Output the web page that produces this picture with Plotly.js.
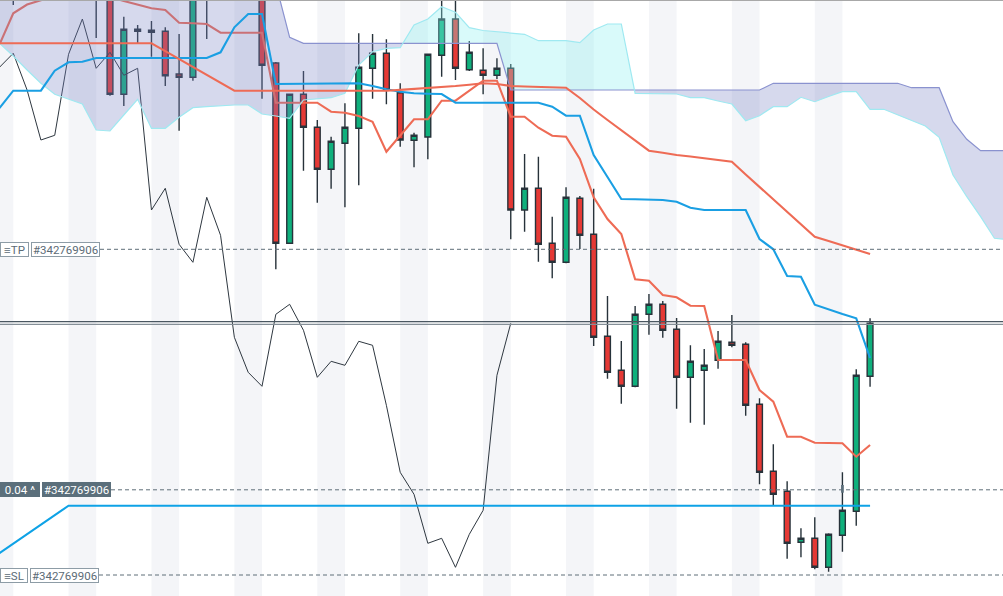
<!DOCTYPE html>
<html><head><meta charset="utf-8">
<script src="https://cdn.plot.ly/plotly-3.0.1.min.js"></script>
<style>html,body{margin:0;padding:0;background:#fff;}#chart{width:1003px;height:596px;}</style>
</head><body><div id="chart"></div>
<script>
// ---- candle data (bar index, OHLC) ----
const candleIdx = [];
for (let i = -7; i <= 55; i++) candleIdx.push(i);
const openP = [630,660,630,650,620,640,630,
 610,505.7,570.7,569.7,568.7,526,522.7,615,
 630,640,620,615,537,356.7,505.7,472.7,
 430.7,456.7,471.7,531.7,546.7,507.3,459.7,463,
 544.7,581,530.3,529.7,524.7,531.7,390,411.7,
 356.7,337.7,401.7,365.7,263.7,229.7,213.7,285.7,
 295.7,270.7,222.7,229.7,239.7,257.7,255.7,195.7,
 128.7,108.7,57.7,61.7,32.7,64.7,88.7,223.7];
const highP = [645,670,660,655,650,650,640,
 620,583.3,575,579,572.7,566,620,650,
 660,655,635,625,538,506,529,480,
 463.3,496.7,566.7,566,560.7,516.7,467.3,546,
 605,603,559,551.7,541.7,536,446,443.3,
 383.3,412.7,404,411.3,304,259,294,306,
 299,282,254.7,251,269,285,257.7,201.7,
 155.7,118.7,71.7,82.7,66.7,127.7,230.7,281.7];
const lowP = [595,620,610,608,605,605,562,
 504.3,494,556.7,543.3,514,469.3,519.3,561,
 610,608,605,501.3,330.7,356,429.3,397.3,
 411.3,392.7,414.7,501.3,495.7,453.3,432.7,440.7,
 523.3,520,529,505.7,521,360.7,368.3,338.3,
 321.7,336.7,351,254,221.3,196.3,212.7,265.3,
 262.3,191.3,177.3,175.3,231.3,252.7,184.3,115.7,
 94.7,41.3,42.7,30.7,28.3,48.3,74.3,213.3];
const closeP = [615,630,650,620,640,625,605,
 505.7,570.7,568.7,567.7,524.3,522.7,610,630,
 640,620,615,534.7,356.7,505.7,472.7,430.7,
 458.7,472.7,532.7,546.7,510,460,464.7,545.7,
 581,531.7,547.7,524.7,531.7,390,411.7,355.7,
 337.7,402.7,364.7,262.7,227.7,213.7,285.7,295.7,
 269.7,222.7,238.7,234.7,258.7,254.7,194.7,127.7,
 105.7,56.7,61.7,32.7,65.7,89.7,224.7,276.7];

// ---- indicator lines (bar index -8 .. 55) ----
const lineIdx = [];
for (let i = -8; i <= 55; i++) lineIdx.push(i);
const blueFast = [492,509.3,509.3,509.3,529.3,537.7,538.3,542,
 542,542,542,542,542,542,542,542,
 547.7,572.7,586,586,516,516,516,516,
 516.7,516.7,516.7,514,510.7,508.3,506.7,506.3,
 506,497.3,497.3,497.3,497.3,497.3,497.3,497.3,
 493.3,484.3,484.3,445,423,401,400.7,400.3,
 400,398.3,392.3,390,390,390,390,361,
 350.7,324,323.3,295.3,290.5,286,281.7,242];
const redBase = [555.3,586.7,595.5,600,604,606,606,605,
 603,599,595.4,591.7,590,577.3,576.7,576,
 567.3,567.3,567.3,567.3,497.3,497.3,497.3,497.3,
 488.3,487.3,484,478.3,448.3,464.5,480.7,480.7,
 499.3,499.3,509.2,519.3,519.3,483.3,483.3,472.3,
 464.3,463.3,441,402.7,381,366,320.7,319.3,
 305,302.7,294.3,294,240,240,240,210,
 198.3,163.3,163.3,157.3,157,156.7,143.3,155];
const redSlow = [556.7,556.7,556.7,556.7,556.7,556.7,556.7,556.7,
 556.7,556.7,556.7,556.7,548.9,541,533.2,525.4,
 517.5,509.3,509.3,509.3,509.3,509.3,509.3,509.3,
 509.3,509.3,509.3,509.3,509.3,510.1,511,511.7,
 512.7,514,515.3,516.7,516,514,513.5,513,
 512.7,512.3,502,490.5,480,469.5,459,449.3,
 447.3,445,443.5,442,440,438.3,425.5,413,
 401,388.5,376,363.3,359,354.5,350,346];
const blueSlow = [46.9,56.4,65.8,75.2,84.6,94.3,94.3,94.3,
 94.3,94.3,94.3,94.3,94.3,94.3,94.3,94.3,
 94.3,94.3,94.3,94.3,94.3,94.3,94.3,94.3,
 94.3,94.3,94.3,94.3,94.3,94.3,94.3,94.3,
 94.3,94.3,94.3,94.3,94.3,94.3,94.3,94.3,
 94.3,94.3,94.3,94.3,94.3,94.3,94.3,94.3,
 94.3,94.3,94.3,94.3,94.3,94.3,94.3,94.3,
 94.3,94.3,94.3,94.3,94.3,94.3,94.3,94.3];

// ---- cloud spans (bar index -8 .. 65) ----
const cloudIdx = [];
for (let i = -8; i <= 65; i++) cloudIdx.push(i);
const spanA = [556.7,544,530,516.7,505.7,501,496,470,
 469,485,500.7,471.7,471.7,482.7,492.3,493.3,
 494.2,495,495,486,484,481.7,500,501,
 502.3,506.7,535,548.3,551.7,552.3,575,581,
 593.3,587.7,572.3,569.5,568,566.7,565.7,559.3,
 559.3,559.3,557.3,570,576,576,506.7,506.5,
 506,506,502.3,502.3,499,496,479.3,484.3,
 493.3,493.3,502.7,498.3,503.5,508.3,508.3,490.7,
 490.7,485,479.5,474,462.7,425,403.3,383.3,
 361.7,360.5];
const spanB = [620,620,620,620,620,620,620,620,
 620,620,620,620,620,620,620,620,
 620,620,620,620,616,562.7,556.7,556.7,
 556.7,556.7,556.7,556.7,556.7,556.7,556.7,556.7,
 556.7,556.7,556.7,556.7,556.7,510,510,510,
 510,510,510,510,510,510,510,510,
 510,510,510,510,510,510,510,510,
 516.7,516.7,516.7,516.7,516.7,516.7,516.7,516.7,
 516.7,516.7,512.3,512.3,512.3,478.3,460.7,449.3,
 449.3,449.3];

// ---- order levels ----
const levelTP = 350.7, levelEntry = 110.2, levelSL = 25;
const priceLine1 = 278.3, priceLine2 = 275.7;
const orderId = '#342769906';

// chikou = closes plotted 26 bars back
const chikouX = candleIdx.map(i => i - 26);

function cloudPolys(xs, a, b) {
  const polys = [];
  let cur = null;
  function add(x0, a0, b0, x1, a1, b1, up) {
    if (!cur || cur.up !== up) {
      if (cur) polys.push(cur);
      cur = {up: up, xs: [x0], ya: [a0], yb: [b0]};
    }
    cur.xs.push(x1); cur.ya.push(a1); cur.yb.push(b1);
  }
  for (let i = 0; i < xs.length - 1; i++) {
    const d0 = a[i] - b[i], d1 = a[i+1] - b[i+1];
    if (d0 * d1 < 0) {
      const t = d0 / (d0 - d1);
      const xc = xs[i] + t * (xs[i+1] - xs[i]);
      const yc = a[i] + t * (a[i+1] - a[i]);
      add(xs[i], a[i], b[i], xc, yc, yc, d0 > 0);
      add(xc, yc, yc, xs[i+1], a[i+1], b[i+1], d1 > 0);
    } else {
      add(xs[i], a[i], b[i], xs[i+1], a[i+1], b[i+1], (d0 + d1) > 0);
    }
  }
  if (cur) polys.push(cur);
  return polys.map(p => ({up: p.up,
    x: p.xs.concat(p.xs.slice().reverse()),
    y: p.ya.concat(p.yb.slice().reverse())}));
}

const traces = [];
traces.push({type:'candlestick', x:candleIdx, open:openP, high:highP, low:lowP, close:closeP,
  increasing:{line:{color:'#27323a', width:1.4}, fillcolor:'#0fb07c'},
  decreasing:{line:{color:'#27323a', width:1.4}, fillcolor:'#e53935'},
  whiskerwidth:0, hoverinfo:'skip'});
traces.push({type:'scatter', mode:'lines', x:chikouX, y:closeP, line:{color:'#2e3740', width:1}, hoverinfo:'skip'});
traces.push({type:'scatter', mode:'lines', x:lineIdx, y:redBase, line:{color:'#ee6b55', width:2.1}, hoverinfo:'skip'});
cloudPolys(cloudIdx, spanA, spanB).forEach(p => {
  traces.push({type:'scatter', mode:'none', x:p.x, y:p.y, fill:'toself',
    fillcolor: p.up ? 'rgba(140,240,240,0.33)' : 'rgba(120,130,195,0.30)', hoverinfo:'skip'});
});
traces.push({type:'scatter', mode:'lines', x:cloudIdx, y:spanB, line:{color:'#8a92cf', width:1.2}, hoverinfo:'skip'});
traces.push({type:'scatter', mode:'lines', x:cloudIdx, y:spanA, line:{color:'#9fe9f1', width:1.2}, hoverinfo:'skip'});
traces.push({type:'scatter', mode:'lines', x:lineIdx, y:blueFast, line:{color:'#1a9fe3', width:2.1}, hoverinfo:'skip'});
traces.push({type:'scatter', mode:'lines', x:lineIdx, y:redSlow, line:{color:'#ee6b55', width:2.1}, hoverinfo:'skip'});
traces.push({type:'scatter', mode:'lines', x:lineIdx, y:blueSlow, line:{color:'#0ea2e6', width:2.1}, hoverinfo:'skip'});

const shapes = [];
for (let k = -1; k <= 9; k++) {
  shapes.push({type:'rect', xref:'x', yref:'paper', x0:6*k-3, x1:6*k-1, y0:0, y1:1,
    fillcolor:'#f4f5f8', line:{width:0}, layer:'below'});
}
function hline(x0, y, color, dash, w) {
  return {type:'line', xref:'paper', yref:'y', x0:x0, x1:1, y0:y, y1:y,
    line:{color:color, width:w, dash:dash}, layer:'above'};
}
shapes.push(hline(0, priceLine1, '#4a5761', 'solid', 1.2));
shapes.push(hline(0, priceLine2, '#858f97', 'solid', 1.2));
shapes.push(hline(100/1003, levelTP, '#5f6e78', '4px,3px', 1));
shapes.push(hline(111/1003, levelEntry, '#5f6e78', '4px,3px', 1));
shapes.push(hline(99/1003, levelSL, '#5f6e78', '4px,3px', 1));
shapes.push({type:'line', xref:'paper', yref:'paper', x0:0, x1:1, y0:1, y1:1, line:{color:'#a8a8a8', width:2}, layer:'above'});
shapes.push({type:'rect', xref:'x', yref:'y', x0:53-0.1, x1:53+0.1, y0:107.3, y1:115,
  fillcolor:'#5d707c', line:{width:0}, layer:'above'});

function lab(x0px, wpx, yv, text, dark) {
  return {xref:'paper', yref:'y', x:x0px/1003, y:yv, xanchor:'left', yanchor:'middle',
    text:text, showarrow:false, width:wpx-4, height:11, borderpad:1, borderwidth:1,
    bordercolor: dark ? '#5b6f7b' : '#8d9ca6', bgcolor: dark ? '#5b6f7b' : '#ffffff',
    font:{family:'Roboto, "Open Sans", sans-serif', size:11.5, color: dark ? '#ffffff' : '#5c6b76'},
    align:'center'};
}
const annotations = [
  lab(0, 29, levelTP, '≡TP', false),
  lab(31, 69, levelTP, orderId, false),
  lab(0, 40, levelEntry, '0.04 ^', true),
  lab(42, 69, levelEntry, orderId, true),
  lab(0, 28, levelSL, '≡SL', false),
  lab(30, 69, levelSL, orderId, false)
];

const layout = {
  width:1003, height:596, margin:{l:0, r:0, t:0, b:0, pad:0},
  paper_bgcolor:'#ffffff', plot_bgcolor:'#ffffff', showlegend:false, hovermode:false,
  boxgap:0.4,
  xaxis:{range:[-7.96, 64.62], visible:false, showgrid:false, zeroline:false, rangeslider:{visible:false}, fixedrange:true},
  yaxis:{range:[4, 600], visible:false, showgrid:false, zeroline:false, fixedrange:true},
  shapes:shapes, annotations:annotations
};
Plotly.newPlot('chart', traces, layout, {staticPlot:true, displayModeBar:false});
</script></body></html>
